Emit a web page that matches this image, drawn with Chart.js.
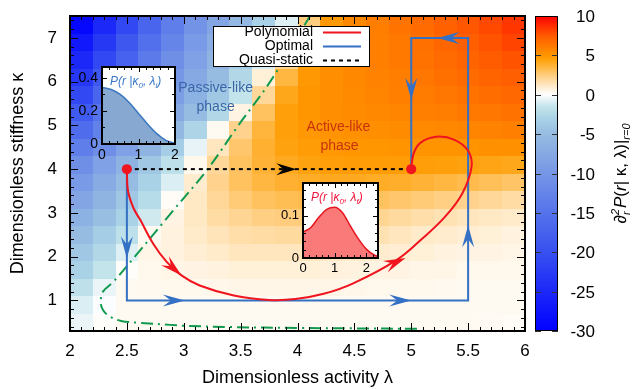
<!DOCTYPE html>
<html>
<head>
<meta charset="utf-8">
<script src="https://cdn.jsdelivr.net/npm/chart.js@4.4.1/dist/chart.umd.min.js"></script>
<style>
html, body { margin: 0; padding: 0; background: #fff; }
#wrap { position: relative; width: 642px; height: 389px; }
#main { position: absolute; left: 0; top: 0; }
.inset { position: absolute; }
</style>
</head>
<body>
<div id="wrap">
  <canvas id="main" width="642" height="389" style="width:642px;height:389px"></canvas>
  <canvas id="in1" class="inset"></canvas>
  <canvas id="in2" class="inset"></canvas>
</div>
<script>
// tick labels
var xTicks = [2, 2.5, 3, 3.5, 4, 4.5, 5, 5.5, 6];
var yTicks = [1, 2, 3, 4, 5, 6, 7];
var cbTicks = [-30, -25, -20, -15, -10, -5, 0, 5, 10];

// heat map cells: edges and values, rows from kappa = 0.3 (bottom) up to 7.5
var lambdaEdges = [2.0, 2.2, 2.4, 2.6, 2.8, 3.0, 3.2, 3.4, 3.6, 3.8, 4.0, 4.2, 4.4, 4.6, 4.8, 5.0, 5.2, 5.4, 5.6, 5.8, 6.0];
var kappaEdges = [0.3, 0.7, 1.1, 1.5, 1.9, 2.3, 2.7, 3.1, 3.5, 3.9, 4.3, 4.7, 5.1, 5.5, 5.9, 6.3, 6.7, 7.1, 7.5];
var heatValues = [
  [-0.5, 0.1, 0.3, 0.3, 0.3, 0.3, 0.3, 0.3, 0.3, 0.3, 0.3, 0.3, 0.3, 0.3, 0.3, 0.3, 0.3, 0.3, 0.25, 0.2],
  [-0.9, -0.1, 0.3, 0.3, 0.3, 0.3, 0.3, 0.3, 0.3, 0.3, 0.3, 0.3, 0.3, 0.3, 0.3, 0.3, 0.3, 0.3, 0.3, 0.3],
  [-1.8, -0.5, 0.3, 0.35, 0.4, 0.4, 0.45, 0.5, 0.5, 0.5, 0.5, 0.5, 0.45, 0.4, 0.4, 0.4, 0.35, 0.3, 0.3, 0.3],
  [-3, -1.5, 0.1, 0.4, 0.5, 0.6, 0.7, 0.8, 0.8, 0.8, 0.8, 0.75, 0.7, 0.6, 0.6, 0.5, 0.5, 0.4, 0.4, 0.4],
  [-4, -2.5, -0.8, 0.5, 0.7, 0.9, 1.1, 1.3, 1.3, 1.3, 1.3, 1.2, 1.1, 1.0, 0.9, 0.8, 0.7, 0.6, 0.6, 0.5],
  [-5, -3.5, -1.8, 0.3, 0.7, 1.1, 1.4, 1.7, 1.8, 1.9, 1.9, 1.8, 1.7, 1.5, 1.3, 1.1, 1.0, 0.9, 0.8, 0.7],
  [-6.5, -4.8, -3, -1.2, 0.6, 1.2, 1.8, 2.1, 2.4, 2.5, 2.5, 2.4, 2.3, 2.1, 1.9, 1.7, 1.5, 1.3, 1.2, 1.1],
  [-8, -6, -4, -2.2, 0.2, 1.2, 2.0, 2.6, 3.0, 3.2, 3.3, 3.3, 3.2, 3.0, 2.8, 2.6, 2.4, 2.2, 2.0, 1.8],
  [-9.5, -7.2, -5, -3, -0.9, 1.0, 2.2, 3.0, 3.5, 3.8, 4.0, 4.1, 4.1, 4.0, 3.9, 3.7, 3.5, 3.3, 3.1, 2.9],
  [-11, -8.5, -6.2, -4, -1.8, 0.4, 2.0, 3.0, 3.7, 4.1, 4.4, 4.6, 4.7, 4.7, 4.7, 4.6, 4.5, 4.4, 4.3, 4.2],
  [-13.5, -11, -8.5, -6, -3.5, -0.6, 1.3, 2.8, 3.8, 4.4, 4.7, 4.9, 5.0, 5.0, 5.1, 5.1, 5.1, 5.1, 5.2, 5.2],
  [-16, -13, -10.5, -8, -5.5, -2.8, 0.3, 2.2, 3.6, 4.5, 4.9, 5.1, 5.2, 5.3, 5.4, 5.5, 5.6, 5.7, 5.8, 5.9],
  [-18.5, -15, -12.5, -10, -7.5, -5, -2.5, 0.6, 3.0, 4.5, 5.0, 5.3, 5.4, 5.6, 5.7, 5.9, 6.0, 6.2, 6.3, 6.5],
  [-21, -17, -14, -11.5, -9, -6.5, -4, -1.5, 2.0, 4.2, 5.0, 5.3, 5.5, 5.7, 5.9, 6.1, 6.3, 6.5, 6.7, 6.9],
  [-23, -19, -15.5, -12.5, -10, -7.5, -5, -2.5, 0.8, 3.5, 4.9, 5.3, 5.6, 5.8, 6.0, 6.3, 6.6, 6.8, 7.1, 7.3],
  [-25, -21, -17.5, -14, -11, -8.5, -6, -3.5, -1, 2.2, 4.5, 5.3, 5.6, 5.9, 6.2, 6.5, 6.8, 7.1, 7.4, 7.7],
  [-27, -23, -19, -15.5, -12.5, -9.5, -7, -4.5, -2, 0.8, 3.6, 5.2, 5.6, 5.9, 6.2, 6.6, 7.0, 7.3, 7.7, 8.1],
  [-29, -25, -21, -17, -13.5, -10.5, -8, -5.5, -3.2, -0.8, 2.5, 4.8, 5.6, 6.0, 6.4, 6.8, 7.2, 7.6, 8.0, 8.5]
];

// protocols
var polyLambda = [2.5, 2.51, 2.56, 2.62, 2.73, 2.85, 2.98, 3.14, 3.44, 3.75, 3.98, 4.23, 4.49, 4.87, 5.1, 5.3, 5.45, 5.53, 5.5, 5.38, 5.22, 5.08, 5.02, 5.0];
var polyKappa = [4.0, 3.5, 3.1, 2.83, 2.3, 1.88, 1.57, 1.34, 1.11, 1.01, 1.03, 1.15, 1.39, 1.92, 2.42, 2.92, 3.45, 4.05, 4.42, 4.67, 4.74, 4.6, 4.35, 4.0];
var optLambda = [2.5, 2.5, 5.5, 5.5, 5.0, 5.0];
var optKappa = [4, 1, 1, 7, 7, 4];
var quasiLambda = [2.5, 5.0];
var quasiKappa = [4, 4];
var endLambda = [2.5, 5.0];
var endKappa = [4, 4];
var boundaryLambda = [5.05, 4.5, 4.0, 3.4, 3.0, 2.88, 2.6, 2.45, 2.35, 2.29, 2.27, 2.29, 2.38, 2.57, 2.89, 3.21, 3.48, 3.76, 4.11];
var boundaryKappa = [0.35, 0.36, 0.37, 0.39, 0.42, 0.44, 0.49, 0.53, 0.63, 0.78, 0.96, 1.2, 1.42, 2.0, 3.0, 4.0, 5.0, 6.0, 7.5];

// arrow heads: tip lambda, tip kappa, tail lambda, tail kappa
var optArrows = [[2.5, 1.96, 2.5, 2.6], [3.01, 1, 2.7, 1], [5.0, 1, 4.7, 1], [5.5, 2.72, 5.5, 2.1], [5.23, 7, 5.5, 7], [5.0, 5.58, 5.0, 6.2]];
var polyArrows = [[2.98, 1.57, 2.88, 1.8], [4.95, 1.97, 4.78, 1.78]];
var quasiArrows = [[3.99, 4, 3.7, 4]];

// insets
var in1R = [0, 0.25, 0.5, 0.75, 1.0, 1.25, 1.5, 1.75, 2.0];
var in1P = [0.342, 0.33, 0.3, 0.25, 0.185, 0.12, 0.063, 0.022, 0.004];
var in1XTicks = [0, 1, 2];
var in1YTicks = [0, 0.2, 0.4];
var in2R = [0, 0.25, 0.5, 0.75, 1.0, 1.25, 1.5, 1.75, 2.0, 2.25, 2.37];
var in2P = [0.061, 0.072, 0.096, 0.115, 0.12, 0.107, 0.075, 0.045, 0.021, 0.007, 0.004];
var in2XTicks = [0, 1, 2];
var in2YTicks = [0, 0.1];

var FONT = '"Liberation Sans", Arial, sans-serif';
Chart.defaults.font.family = FONT;
Chart.defaults.color = '#000';

var RED = '#f0141e';
var BLUE = '#3470c4';
var GREEN = '#0f9a50';

// colour bar of the picture
var cmapStops = [
  [-30, 0, 0, 255], [-25, 28, 40, 248], [-20, 55, 80, 240], [-15, 85, 115, 235],
  [-10, 118, 150, 230], [-5, 150, 188, 225], [-3, 170, 210, 230], [-1.5, 195, 228, 235],
  [-0.5, 235, 245, 248], [0, 255, 255, 255], [0.5, 255, 246, 232], [1.5, 255, 226, 180],
  [2.5, 255, 205, 125], [3.5, 255, 183, 65], [4.5, 255, 160, 10], [5, 255, 150, 0],
  [7.5, 255, 90, 0], [10, 255, 0, 0]
];
function cmap(v) {
  var s = cmapStops;
  if (v <= s[0][0]) return 'rgb(' + s[0][1] + ',' + s[0][2] + ',' + s[0][3] + ')';
  for (var i = 1; i < s.length; i++) {
    if (v <= s[i][0]) {
      var t = (v - s[i - 1][0]) / (s[i][0] - s[i - 1][0]);
      var c = [1, 2, 3].map(function (k) { return Math.round(s[i - 1][k] + t * (s[i][k] - s[i - 1][k])); });
      return 'rgb(' + c.join(',') + ')';
    }
  }
  var l = s[s.length - 1];
  return 'rgb(' + l[1] + ',' + l[2] + ',' + l[3] + ')';
}

function pts(xs, ys) {
  return xs.map(function (x, i) { return { x: x, y: ys[i] }; });
}

function fixedTicks(list) {
  return function (scale) { scale.ticks = list.map(function (v) { return { value: v }; }); };
}

// fixed axis size, and no label overhang pushing the plot area around
function fitTo(prop, size) {
  return function (s) {
    s[prop] = size;
    s.paddingTop = 0; s.paddingBottom = 0; s.paddingLeft = 0; s.paddingRight = 0;
  };
}

// inward tick marks on all four sides of the frame
function frameTicks(chart, spec, majLen, minLen, lw) {
  var ctx = chart.ctx, a = chart.chartArea;
  ctx.save();
  ctx.strokeStyle = '#000';
  ctx.lineWidth = 1;
  spec.forEach(function (s) {
    var sc = chart.scales[s.id];
    var k0 = Math.ceil(sc.min / s.minor - 1e-6), k1 = Math.floor(sc.max / s.minor + 1e-6);
    for (var k = k0; k <= k1; k++) {
      var v = k * s.minor;
      var major = Math.abs(v / s.major - Math.round(v / s.major)) < 1e-6;
      var len = major ? majLen : minLen;
      var p = Math.round(sc.getPixelForValue(v)) + 0.5;
      ctx.beginPath();
      if (s.id === 'x') {
        ctx.moveTo(p, a.bottom); ctx.lineTo(p, a.bottom - len);
        ctx.moveTo(p, a.top); ctx.lineTo(p, a.top + len);
      } else {
        ctx.moveTo(a.left, p); ctx.lineTo(a.left + len, p);
        ctx.moveTo(a.right, p); ctx.lineTo(a.right - len, p);
      }
      ctx.stroke();
    }
  });
  ctx.lineWidth = lw;
  ctx.strokeRect(a.left, a.top, a.right - a.left, a.bottom - a.top);
  ctx.restore();
}

function richWidth(ctx, parts) {
  var w = 0;
  parts.forEach(function (p) {
    ctx.font = p.f;
    if (p.sup !== undefined) w += Math.max(ctx.measureText(p.sup).width, ctx.measureText(p.sub).width) + 1;
    else w += ctx.measureText(p.t).width;
  });
  return w;
}
function drawRich(ctx, x, y, parts) {
  parts.forEach(function (p) {
    ctx.font = p.f;
    if (p.sup !== undefined) {
      ctx.fillText(p.sup, x, y - p.up);
      ctx.fillText(p.sub, x, y + p.down);
      x += Math.max(ctx.measureText(p.sup).width, ctx.measureText(p.sub).width) + 1;
    } else {
      ctx.fillText(p.t, x, y + (p.dy || 0));
      x += ctx.measureText(p.t).width;
    }
  });
}

function arrowHead(ctx, tx, ty, fx, fy, len, half, notch, color) {
  var ang = Math.atan2(ty - fy, tx - fx);
  ctx.save();
  ctx.translate(tx, ty);
  ctx.rotate(ang);
  ctx.beginPath();
  ctx.moveTo(0, 0);
  ctx.lineTo(-len, -half);
  ctx.lineTo(-len + notch, 0);
  ctx.lineTo(-len, half);
  ctx.closePath();
  ctx.fillStyle = color;
  ctx.fill();
  ctx.restore();
}

var heatPlugin = {
  id: 'heat',
  beforeDatasetsDraw: function (chart) {
    var ctx = chart.ctx, xs = chart.scales.x, ys = chart.scales.y, a = chart.chartArea;
    ctx.save();
    ctx.beginPath();
    ctx.rect(a.left, a.top, a.right - a.left, a.bottom - a.top);
    ctx.clip();
    for (var j = 0; j < heatValues.length; j++) {
      var y0 = Math.round(ys.getPixelForValue(kappaEdges[j + 1]));
      var y1 = Math.round(ys.getPixelForValue(kappaEdges[j]));
      for (var i = 0; i < heatValues[j].length; i++) {
        var x0 = Math.round(xs.getPixelForValue(lambdaEdges[i]));
        var x1 = Math.round(xs.getPixelForValue(lambdaEdges[i + 1]));
        ctx.fillStyle = cmap(heatValues[j][i]);
        ctx.fillRect(x0, y0, x1 - x0, y1 - y0);
      }
    }
    ctx.restore();
  }
};

var arrowPlugin = {
  id: 'arrows',
  afterDatasetsDraw: function (chart) {
    var ctx = chart.ctx, xs = chart.scales.x, ys = chart.scales.y;
    function put(list, color, len, half, notch) {
      list.forEach(function (a) {
        arrowHead(ctx, xs.getPixelForValue(a[0]), ys.getPixelForValue(a[1]),
          xs.getPixelForValue(a[2]), ys.getPixelForValue(a[3]), len, half, notch, color);
      });
    }
    put(optArrows, BLUE, 22, 6, 8);
    put(polyArrows, RED, 22, 6, 8);
    put(quasiArrows, '#000', 20, 6, 7);
  }
};

var decorPlugin = {
  id: 'decor',
  afterDraw: function (chart) {
    var ctx = chart.ctx, xs = chart.scales.x, ys = chart.scales.y, cb = chart.scales.cb, a = chart.chartArea;
    frameTicks(chart, [{ id: 'x', minor: 0.1, major: 0.5 }, { id: 'y', minor: 0.2, major: 1 }], 8, 4, 2);

    // phase labels
    ctx.save();
    ctx.font = '14px ' + FONT;
    ctx.textAlign = 'center';
    ctx.textBaseline = 'middle';
    ctx.fillStyle = '#3a66a8';
    ctx.fillText('Passive-like', xs.getPixelForValue(3.28), ys.getPixelForValue(5.85));
    ctx.fillText('phase', xs.getPixelForValue(3.28), ys.getPixelForValue(5.42));
    ctx.fillStyle = '#c8320f';
    ctx.fillText('Active-like', xs.getPixelForValue(4.36), ys.getPixelForValue(4.96));
    ctx.fillText('phase', xs.getPixelForValue(4.37), ys.getPixelForValue(4.53));

    // legend
    ctx.fillStyle = '#fff';
    ctx.fillRect(213, 26, 157, 41);
    ctx.strokeStyle = '#000';
    ctx.lineWidth = 1;
    ctx.strokeRect(213.5, 26.5, 156, 40);
    var rows = [chart.data.datasets[1], chart.data.datasets[2], chart.data.datasets[3]];
    ctx.textAlign = 'right';
    rows.forEach(function (ds, i) {
      var yy = 32.5 + i * 14;
      ctx.fillStyle = '#000';
      ctx.fillText(ds.label, 313, yy);
      ctx.beginPath();
      ctx.strokeStyle = ds.borderColor;
      ctx.lineWidth = 2;
      ctx.setLineDash(ds.borderDash || []);
      ctx.moveTo(323, yy);
      ctx.lineTo(361, yy);
      ctx.stroke();
      ctx.setLineDash([]);
    });

    // colour bar
    var bl = 535, br = 558;
    for (var py = Math.round(a.top); py < Math.round(a.bottom); py++) {
      ctx.fillStyle = cmap(cb.getValueForPixel(py + 0.5));
      ctx.fillRect(bl, py, br - bl, 1);
    }
    ctx.strokeStyle = '#333';
    ctx.lineWidth = 1;
    ctx.font = '17px ' + FONT;
    ctx.textAlign = 'right';
    ctx.textBaseline = 'middle';
    ctx.fillStyle = '#000';
    cbTicks.forEach(function (v) {
      var p = Math.round(cb.getPixelForValue(v)) + 0.5;
      ctx.beginPath();
      ctx.moveTo(bl, p); ctx.lineTo(bl + 6, p);
      ctx.moveTo(br, p); ctx.lineTo(br - 6, p);
      ctx.stroke();
      ctx.fillText(String(v), 595, p + 1);
    });
    ctx.strokeStyle = '#000';
    ctx.strokeRect(bl + 0.5, Math.round(a.top) + 0.5, br - bl - 1, Math.round(a.bottom) - Math.round(a.top) - 1);

    // colour bar title
    var parts = [
      { t: '\u2202', f: '17px ' + FONT },
      { sup: '2', sub: 'r', up: 7, down: 4, f: 'italic 11px ' + FONT },
      { t: 'P', f: 'italic 17px ' + FONT },
      { t: '(', f: '17px ' + FONT },
      { t: 'r', f: 'italic 17px ' + FONT },
      { t: '| \u03ba, \u03bb)|', f: '17px ' + FONT },
      { t: 'r=0', f: 'italic 11px ' + FONT, dy: 4 }
    ];
    var w = richWidth(ctx, parts);
    ctx.translate(626, (a.top + a.bottom) / 2);
    ctx.rotate(-Math.PI / 2);
    ctx.textAlign = 'left';
    ctx.textBaseline = 'alphabetic';
    drawRich(ctx, -w / 2, 0, parts);
    ctx.restore();
  }
};

new Chart(document.getElementById('main'), {
  type: 'scatter',
  data: {
    datasets: [
      { label: 'ends', data: pts(endLambda, endKappa), showLine: false, pointRadius: 5, pointBackgroundColor: RED, pointBorderWidth: 0, order: 0 },
      { label: 'Polynomial', data: pts(polyLambda, polyKappa), showLine: true, borderColor: RED, borderWidth: 2, tension: 0.4, pointRadius: 0, order: 1 },
      { label: 'Optimal', data: pts(optLambda, optKappa), showLine: true, borderColor: BLUE, borderWidth: 2, tension: 0, pointRadius: 0, order: 2 },
      { label: 'Quasi-static', data: pts(quasiLambda, quasiKappa), showLine: true, borderColor: '#000', borderDash: [4, 4], borderWidth: 2, pointRadius: 0, order: 3 },
      { label: 'boundary', data: pts(boundaryLambda, boundaryKappa), showLine: true, borderColor: GREEN, borderDash: [12, 5, 2, 5], borderWidth: 2, tension: 0.35, pointRadius: 0, order: 4 }
    ]
  },
  options: {
    responsive: false,
    maintainAspectRatio: false,
    animation: false,
    layout: { padding: { top: 16, right: 0, bottom: 0, left: 0 } },
    plugins: { legend: { display: false }, tooltip: { enabled: false } },
    scales: {
      x: {
        type: 'linear', position: 'bottom', min: 2, max: 6,
        afterBuildTicks: fixedTicks(xTicks),
        afterFit: fitTo('height', 58),
        grid: { display: false, drawTicks: false }, border: { display: false },
        ticks: { font: { size: 17 }, padding: 10, maxRotation: 0, autoSkip: false, callback: function (v) { return String(v); } },
        title: { display: true, text: 'Dimensionless activity \u03bb', font: { size: 18 }, padding: { top: 0, bottom: 0 } }
      },
      y: {
        type: 'linear', position: 'left', min: 0.3, max: 7.5,
        afterBuildTicks: fixedTicks(yTicks),
        afterFit: fitTo('width', 70),
        grid: { display: false, drawTicks: false }, border: { display: false },
        ticks: { font: { size: 17 }, padding: 13, autoSkip: false, callback: function (v) { return String(v); } },
        title: { display: true, text: 'Dimensionless stiffness \u03ba', font: { size: 18 }, padding: { top: 7, bottom: 0 } }
      },
      cb: {
        type: 'linear', position: 'right', min: -30, max: 10,
        afterBuildTicks: fixedTicks(cbTicks),
        afterFit: fitTo('width', 117),
        grid: { display: false, drawTicks: false }, border: { display: false },
        ticks: { display: false }
      }
    }
  },
  plugins: [heatPlugin, arrowPlugin, decorPlugin]
});

function makeInset(id, o) {
  var cv = document.getElementById(id);
  var b = o.box;
  var W = b.r - b.l + 50, H = b.b - b.t + 32;
  cv.width = W;
  cv.height = H;
  cv.style.width = W + 'px';
  cv.style.height = H + 'px';
  cv.style.left = (b.l - 40) + 'px';
  cv.style.top = (b.t - 6) + 'px';
  var plug = {
    id: 'insetDecor',
    beforeDatasetsDraw: function (chart) {
      var a = chart.chartArea;
      chart.ctx.save();
      chart.ctx.fillStyle = '#fff';
      chart.ctx.fillRect(a.left, a.top, a.right - a.left, a.bottom - a.top);
      chart.ctx.restore();
    },
    afterDraw: function (chart) {
      var ctx = chart.ctx, a = chart.chartArea;
      frameTicks(chart, [{ id: 'x', minor: o.xMinor, major: 1 }, { id: 'y', minor: o.yMinor, major: o.yMajor }], 5, 3, 2);
      ctx.save();
      ctx.fillStyle = o.titleColor;
      ctx.textBaseline = 'alphabetic';
      var f = 'italic 12px ' + FONT, fs = 'italic 8px ' + FONT;
      drawRich(ctx, a.left + 8, a.top + 18, [
        { t: 'P(r |\u03ba', f: f }, { t: '0', f: fs, dy: 3 }, { t: ', \u03bb', f: f }, { t: o.sub, f: fs, dy: 3 }, { t: ')', f: f }
      ]);
      ctx.restore();
    }
  };
  return new Chart(cv, {
    type: 'scatter',
    data: {
      datasets: [{
        data: pts(o.r, o.p), showLine: true, cubicInterpolationMode: 'monotone',
        borderColor: o.line, borderWidth: 1.5, backgroundColor: o.fill, fill: 'origin', pointRadius: 0
      }]
    },
    options: {
      responsive: false,
      maintainAspectRatio: false,
      animation: false,
      layout: { padding: { top: 6, right: 10, left: 0, bottom: 0 } },
      plugins: { legend: { display: false }, tooltip: { enabled: false } },
      scales: {
        x: {
          type: 'linear', min: 0, max: o.xMax,
          afterBuildTicks: fixedTicks(o.xTicks),
          afterFit: fitTo('height', 26),
          grid: { display: false, drawTicks: false }, border: { display: false },
          ticks: { font: { size: o.fs }, padding: 3, maxRotation: 0, autoSkip: false, callback: function (v) { return String(v); } }
        },
        y: {
          type: 'linear', min: 0, max: o.yMax,
          afterBuildTicks: fixedTicks(o.yTicks),
          afterFit: fitTo('width', 40),
          grid: { display: false, drawTicks: false }, border: { display: false },
          ticks: { font: { size: o.fs }, padding: 4, autoSkip: false, callback: function (v) { return String(v); } }
        }
      }
    },
    plugins: [plug]
  });
}

makeInset('in1', {
  box: { l: 102, t: 67, r: 175, b: 144 },
  r: in1R, p: in1P, xMax: 2, yMax: 0.466, xTicks: in1XTicks, yTicks: in1YTicks,
  xMinor: 0.2, yMinor: 0.1, yMajor: 0.2, fs: 14,
  line: '#3a78c0', fill: 'rgb(135,168,208)', titleColor: '#3a78c8', sub: 'i'
});
makeInset('in2', {
  box: { l: 303, t: 183, r: 378, b: 258 },
  r: in2R, p: in2P, xMax: 2.37, yMax: 0.177, xTicks: in2XTicks, yTicks: in2YTicks,
  xMinor: 0.2, yMinor: 0.02, yMajor: 0.1, fs: 13,
  line: '#e8141e', fill: 'rgb(250,122,122)', titleColor: '#f0143c', sub: 'f'
});
</script>
</body>
</html>
